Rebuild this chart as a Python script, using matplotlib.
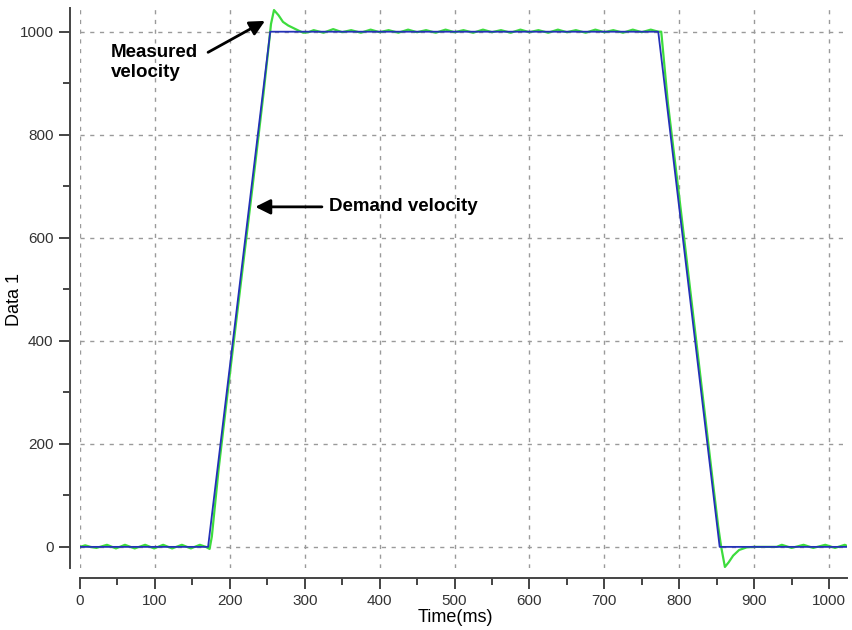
import matplotlib
matplotlib.use("Agg")
import matplotlib.pyplot as plt
from matplotlib.ticker import MultipleLocator

# Demand velocity (trapezoid profile)
demand_t = [0, 171, 254, 772, 854, 1024]
demand_v = [0, 0, 1000, 1000, 0, 0]

# Measured velocity
measured_t = [0, 7, 14, 22, 36, 48, 60, 73, 87, 99, 111, 123, 136, 148, 160, 168, 173, 176,
              185, 200, 215, 230, 245, 251, 255, 259, 265, 271, 278, 285, 292, 298, 305, 312,
              325, 338, 350, 362, 375, 388, 400, 412, 425, 438, 450, 462, 475, 488, 500, 512,
              525, 538, 550, 562, 575, 588, 600, 612, 625, 638, 650, 662, 675, 688, 700, 712,
              725, 738, 750, 762, 772, 776, 785, 800, 815, 830, 845, 852, 856, 861, 866, 872,
              880, 890, 900, 915, 930, 937, 950, 966, 979, 995, 1008, 1021, 1024]
measured_v = [0, 3, 0, -2, 4, -3, 4, -3, 4, -3, 4, -3, 4, -3, 4, 0, -4, 20,
              150, 335, 515, 695, 880, 960, 1015, 1042, 1032, 1019, 1012, 1007, 1002, 998, 999, 1003,
              998, 1005, 999, 1003, 998, 1004, 999, 1003, 998, 1004, 999, 1003, 998, 1004, 999, 1003,
              998, 1004, 999, 1003, 998, 1004, 999, 1003, 998, 1004, 999, 1003, 998, 1004, 999, 1003,
              998, 1004, 999, 1004, 1000, 1000, 860, 680, 495, 310, 125, 40, 0, -39, -30, -17,
              -6, -1, 0, 0, 0, 4, -2, 4, -2, 4, -2, 4, 2]

x_ticks = [0, 100, 200, 300, 400, 500, 600, 700, 800, 900, 1000]
y_ticks = [0, 200, 400, 600, 800, 1000]

plt.rcParams['font.family'] = ['Liberation Sans', 'DejaVu Sans']

W, H = 853, 630
fig = plt.figure(figsize=(W / 100, H / 100), dpi=100)
ax = fig.add_axes([80 / W, (H - 568) / H, (847 - 80) / W, (568 - 8) / H])

ax.plot(measured_t, measured_v, color='#3ddc3d', lw=1.6, zorder=3)
ax.plot(demand_t, demand_v, color='#2431b8', lw=1.3, zorder=4)

ax.set_xlim(0, 1024)
ax.set_ylim(-41, 1046)

for s in ['top', 'right']:
    ax.spines[s].set_visible(False)
ax.spines['left'].set_position(('outward', 7))
ax.spines['bottom'].set_position(('outward', 7))
for s in ['left', 'bottom']:
    ax.spines[s].set_color('#444444')
    ax.spines[s].set_linewidth(1.4)

ax.set_xticks(x_ticks)
ax.set_yticks(y_ticks)
ax.xaxis.set_minor_locator(MultipleLocator(50))
ax.yaxis.set_minor_locator(MultipleLocator(100))
ax.tick_params(which='major', length=8, width=1.4, color='#444444', labelcolor='#333333',
               labelsize=11, pad=4)
ax.tick_params(which='minor', length=5, width=1.4, color='#444444')

ax.grid(True, which='major', color='#9a9a9a', linestyle=(0, (3, 4)), lw=1.0)
ax.set_axisbelow(True)

fig.text(455 / W, 1 - 618 / H, 'Time(ms)', fontsize=13, ha='center', va='center')
fig.text(15 / W, 1 - 300 / H, 'Data 1', fontsize=13, ha='center', va='center', rotation=90)

arrow = dict(arrowstyle='-|>,head_length=0.9,head_width=0.45', color='black',
             lw=2, shrinkA=0, shrinkB=0)
ax.text(41, 940, 'Measured\nvelocity', fontsize=13.5, fontweight='bold',
        ha='left', va='center', linespacing=1.25, zorder=6)
ax.annotate('', xy=(247, 1021), xytext=(171, 960), arrowprops=arrow, zorder=6)
ax.annotate('', xy=(234, 660), xytext=(323, 660), arrowprops=arrow, zorder=6)
ax.text(333, 660, 'Demand velocity', fontsize=13.5, fontweight='bold',
        ha='left', va='center', zorder=6)

fig.savefig('out.png', dpi=100)
